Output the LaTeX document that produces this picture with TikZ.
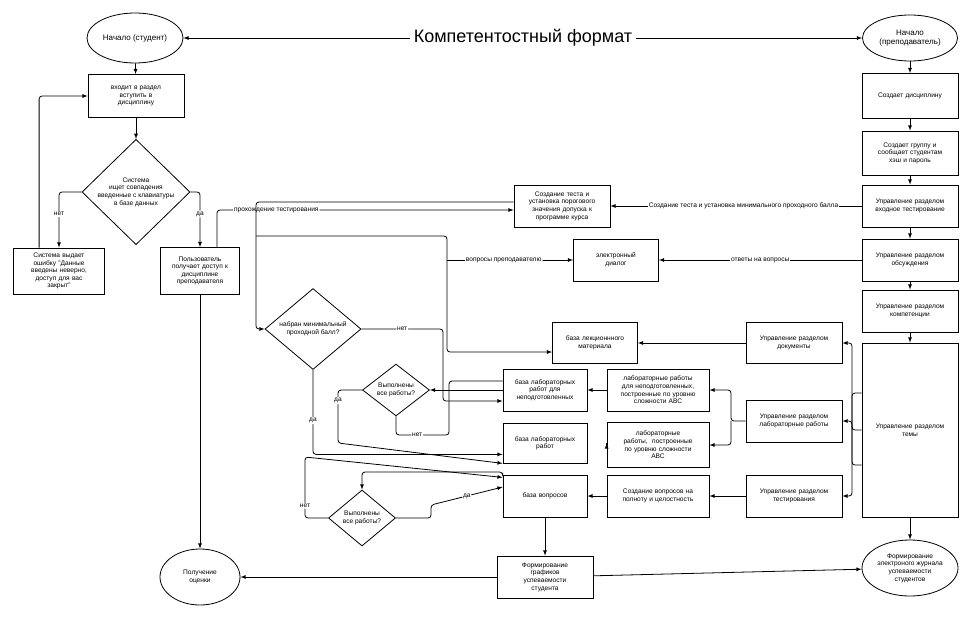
\documentclass[tikz,border=0pt]{standalone}
\usepackage{fontspec}
\setmainfont{Liberation Sans}
\usetikzlibrary{shapes.geometric}
\begin{document}
\begin{tikzpicture}[
                        x=1pt, y=-1pt,
                        >=latex,
                        font=\fontsize{6.6}{7.6}\selectfont,
                        every path/.style={line width=0.8pt},
                        box/.style={rectangle, draw, align=center, inner sep=1pt},
                        dia/.style={diamond, draw, align=center, inner sep=0pt},
                        term/.style={ellipse, draw, align=center, inner sep=1pt},
                        lbl/.style={fill=white, inner sep=1pt},
                        link/.style={->, rounded corners=3pt}
                    ]
                    \useasboundingbox (0,0) rectangle (973,618);
                    % Blocks: student side
                    \node [term, minimum width=96pt, minimum height=50pt, font=\fontsize{8}{9}\selectfont] (startS) at (135,38) {Начало (студент)};
                    \node [font=\fontsize{18}{20}\selectfont] (title) at (523,38) {Компетентостный формат};
                    \node [term, minimum width=95pt, minimum height=46pt, font=\fontsize{8}{9}\selectfont] (startT) at (910,38) {Начало\\(преподаватель)};
                    \node [box, minimum width=96pt, minimum height=43pt, text width=70pt] (enter) at (136,96) {входит в раздел\\вступить в\\дисциплину};
                    \node [dia, minimum width=108pt, minimum height=74pt] (check) at (136,192) {Система\\ищет совпадения\\введенные с клавиатуры\\в базе данных};
                    \node [box, minimum width=91pt, minimum height=46pt, text width=88pt] (err) at (59,271) {Система выдает\\ошибку "Данные\\введены неверно,\\доступ для вас\\закрыт"};
                    \node [box, minimum width=79pt, minimum height=47pt, text width=76pt] (access) at (200,271) {Пользователь\\получает доступ к\\дисциплине\\преподавателя};
                    \node [term, minimum width=80pt, minimum height=56pt] (grade) at (200,577) {Получение\\оценки};
                    % Blocks: middle
                    \node [box, minimum width=96pt, minimum height=42pt, text width=92pt] (testBox) at (562,206) {Создание теста и\\установка порогового\\значения допуска к\\программе курса};
                    \node [box, minimum width=85pt, minimum height=42pt, text width=80pt] (dialog) at (616,260) {электронный\\диалог};
                    \node [box, minimum width=85pt, minimum height=41pt, text width=80pt] (lecture) at (595,343) {база лекционнного\\материала};
                    \node [dia, minimum width=96pt, minimum height=78pt] (minScore) at (313,329) {набран минимальный\\проходной балл?};
                    \node [dia, minimum width=67pt, minimum height=46pt] (doneA) at (396,390) {Выполнены\\все работы?};
                    \node [dia, minimum width=67pt, minimum height=56pt] (doneB) at (362,518) {Выполнены\\все работы?};
                    \node [box, minimum width=84pt, minimum height=42pt, text width=80pt] (labsWeak) at (545,390) {база лабораторных\\работ для\\неподготовленных};
                    \node [box, minimum width=84pt, minimum height=40pt, text width=80pt, anchor=north] (labs) at (545,423) {база лабораторных\\работ};
                    \node [box, minimum width=84pt, minimum height=42pt, text width=80pt] (quest) at (545,496) {база вопросов};
                    \node [box, minimum width=102pt, minimum height=42pt, text width=98pt] (labsWeakMk) at (658,390) {лабораторные работы\\для неподготовленных,\\построенные по уровню\\сложности АВС};
                    \node [box, minimum width=102pt, minimum height=45pt, text width=80pt] (labsMk) at (658,445) {лабораторные\\работы,\ \ построенные\\по уровню сложности\\АВС};
                    \node [box, minimum width=102pt, minimum height=42pt, text width=98pt] (questMk) at (658,496) {Создание вопросов на\\полноту и целостность};
                    \node [box, minimum width=96pt, minimum height=42pt, text width=92pt] (graphs) at (545,577) {Формирование\\графиков\\успеваемости\\студента};
                    % Blocks: teacher side
                    \node [box, minimum width=96pt, minimum height=45pt, text width=92pt] (makeDisc) at (910,96) {Создает дисциплину};
                    \node [box, minimum width=96pt, minimum height=44pt, text width=92pt] (makeGroup) at (910,153) {Создает группу и\\сообщает студентам\\хэш и пароль};
                    \node [box, minimum width=96pt, minimum height=42pt, text width=92pt] (mgInput) at (910,206) {Управление разделом\\входное тестирование};
                    \node [box, minimum width=96pt, minimum height=42pt, text width=92pt] (mgForum) at (910,260) {Управление разделом\\обсуждения};
                    \node [box, minimum width=96pt, minimum height=42pt, text width=92pt] (mgComp) at (910,311) {Управление разделом\\компетенции};
                    \node [box, minimum width=96pt, minimum height=174pt, text width=92pt] (mgTopic) at (910,430) {Управление разделом\\темы};
                    \node [box, minimum width=96pt, minimum height=41pt, text width=92pt] (mgDocs) at (794,343) {Управление разделом\\документы};
                    \node [box, minimum width=96pt, minimum height=42pt, text width=92pt] (mgLabs) at (794,421) {Управление разделом\\лабораторные работы};
                    \node [box, minimum width=96pt, minimum height=42pt, text width=92pt] (mgTests) at (794,496) {Управление разделом\\тестирования};
                    \node [term, minimum width=96pt, minimum height=56pt] (journal) at (910,568) {Формирование\\электроного журнала\\успеваемости\\студентов};
                    \coordinate (split) at (256,236);

                    % Connections
                    \draw [->] (title) -- (startS);
                    \draw [->] (title) -- (startT);
                    \draw [->] (startS) -- (enter);
                    \draw [->] (enter) -- (check);
                    \draw [link] (check.west) -| node[pos=0.7, lbl]{нет} (err.north);
                    \draw [link] (check.east) -| node[pos=0.7, lbl]{да} (access.north);
                    \draw [link] (err.north west) ++(26,0) |- (enter.west);
                    \draw [->] (access) -- (grade);
                    \draw [link] ([xshift=17pt]access.north) |- node[pos=0.6, lbl]{прохождение тестирования} ([yshift=-4pt]testBox.west);
                    \draw [link] ([yshift=4pt]testBox.west) -| (256,210) |- (minScore.west);
                    \draw [link] (split) -| (447,300) |- ([yshift=-9pt]lecture.west);
                    \draw [link] (447,260) -- node[lbl, pos=0.45]{вопросы преподавателю} (dialog.west);
                    \draw [link] (minScore.east) -- node[lbl]{нет} (443,329) |- ([yshift=-11pt]labsWeak.west);
                    \draw [link] (minScore.south) |- node[pos=0.3, lbl]{да} ([yshift=-11pt]labs.west);
                    \draw [->] (labsWeak.west) -- (doneA.east);
                    \draw [rounded corners=3pt] (doneA.south) |- node[pos=0.7, lbl]{нет} (449,435) |- ([yshift=9pt]labsWeak.west);
                    \draw [link] (doneA.west) -| node[pos=0.6, lbl]{да} (338,443) -- ([yshift=-20pt]labs.west);
                    \draw [link] (doneB.west) -| node[pos=0.6, lbl]{нет} (305,457) -- ([yshift=-34pt]labs.west);
                    \draw [link] (labs.south west) ++(0,9) |- (362,472) -- (doneB.north);
                    \draw [link] (doneB.east) -| (431,505) -- node[lbl]{да} ([yshift=9pt]quest.west);
                    \draw [->] (quest) -- (graphs);
                    \draw [->] (graphs) -- (grade);
                    \draw [->] (graphs) -- (journal);
                    \draw [->] (startT) -- (makeDisc);
                    \draw [->] (makeDisc) -- (makeGroup);
                    \draw [->] (makeGroup) -- (mgInput);
                    \draw [->] (mgInput) -- (mgForum);
                    \draw [->] (mgForum) -- (mgComp);
                    \draw [->] (mgComp) -- (mgTopic);
                    \draw [->] (mgTopic) -- (journal);
                    \draw [->] (mgInput) -- node[lbl, pos=0.47]{Создание теста и установка минимального проходного балла} (testBox);
                    \draw [->] (mgForum) -- node[lbl]{ответы на вопросы} (dialog);
                    \draw [->] (mgDocs) -- (lecture);
                    \draw [->] (labsWeakMk) -- (labsWeak);
                    \draw [->] (labsMk) -- (labsWeakMk.west |- labs);
                    \draw [->] (questMk) -- (quest);
                    \draw [->] (mgTests) -- (questMk);
                    \draw [link] (mgLabs.west) -- (731,421) |- (labsWeakMk.east);
                    \draw [link] (731,421) |- (labsMk.east);
                    \draw [link] ([yshift=-35pt]mgTopic.west) -| (852,343) -- (mgDocs.east);
                    \draw [link] ([yshift=0pt]mgTopic.west) -| (852,421) -- (mgLabs.east);
                    \draw [link] ([yshift=37pt]mgTopic.west) -| (852,496) -- (mgTests.east);
\end{tikzpicture}
\end{document}
